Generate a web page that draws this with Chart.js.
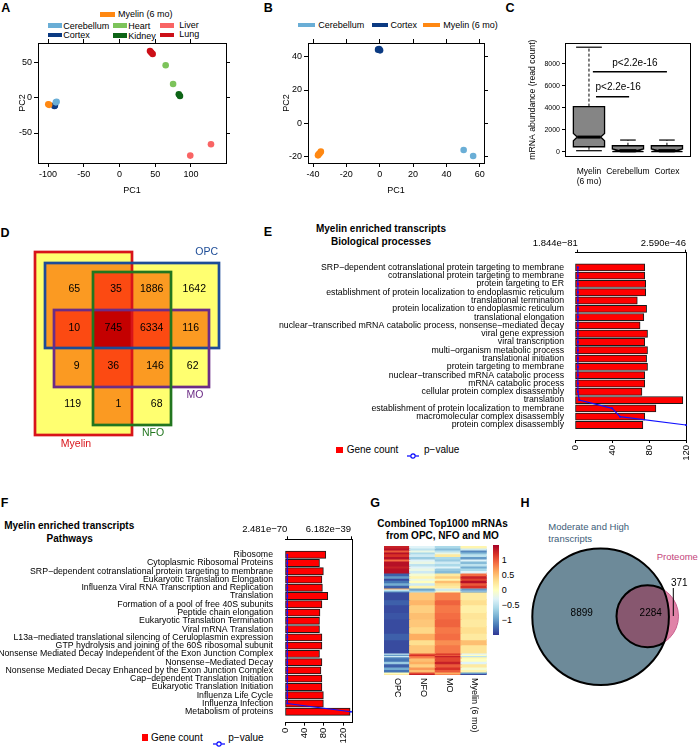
<!DOCTYPE html>
<html><head><meta charset="utf-8">
<script src="https://cdn.jsdelivr.net/npm/chart.js"></script>
<style>
html,body{margin:0;padding:0;background:#fff;}
#root{position:relative;width:700px;height:749px;overflow:hidden;font-family:"Liberation Sans",Arial,Helvetica,sans-serif;color:#000;}
#root canvas{position:absolute;}
.t{position:absolute;white-space:nowrap;line-height:1;}
.sw{position:absolute;}
</style></head>
<body><div id="root"></div>
<script>
/* ================= DATA ================= */
// A: PCA, all tissues  [PC1, PC2]
const A_myelin     = [[-99.6,-9.3],[-98.4,-10.1]];
const A_cerebellum = [[-88,-5.7],[-89,-6.6]];
const A_cortex     = [[-91,-11.8],[-90.4,-10.9]];
const A_heart      = [[64.6,46],[75,19.4]];
const A_kidney     = [[83,4.8],[84.6,2.4]];
const A_liver      = [[128,-66],[99,-82]];
const A_lung       = [[42.7,66],[46.4,62],[44.5,64]];
const A_xTicks = [-100,-50,0,50,100];
const A_yTicks = [-50,0,50];
// B: PCA, neural tissues
const B_cerebellum = [[50.3,-16],[56,-19.6]];
const B_cortex     = [[-1,44.2],[0.2,43.8],[-0.4,44.5]];
const B_myelin     = [[-36,-18],[-37,-19.2],[-35.3,-17],[-36.6,-18.6]];
const B_xTicks = [-40,-20,0,20,40,60];
const B_yTicks = [-20,0,20,40];
// C: boxplot statistics (read count)
const C_groups       = [['Myelin','(6 mo)'],'Cerebellum','Cortex'];
const C_whiskerLow   = [90,0,0];
const C_q1           = [450,0,0];
const C_notchLow     = [1000,0,0];
const C_median       = [1330,100,100];
const C_notchHigh    = [1650,250,250];
const C_q3           = [4100,540,540];
const C_whiskerHigh  = [9500,1060,1060];
const C_yTicks       = [0,2000,4000,6000,8000];
const C_pText        = ['p<2.2e-16','p<2.2e-16'];
// D: Venn counts (rows: OPC only / OPC+MO / MO only / neither ; cols: Myelin only / Myelin+NFO / NFO only / neither)
const D_sets = ['Myelin','OPC','NFO','MO'];
const D_row1 = [65,35,1886,1642];
const D_row2 = [10,745,6334,116];
const D_row3 = [9,36,146,62];
const D_row4 = [119,1,68,null];
// E: GO biological processes
const E_terms = ['SRP−dependent cotranslational protein targeting to membrane','cotranslational protein targeting to membrane','protein targeting to ER','establishment of protein localization to endoplasmic reticulum','translational termination','protein localization to endoplasmic reticulum','translational elongation','nuclear−transcribed mRNA catabolic process, nonsense−mediated decay','viral gene expression','viral transcription','multi−organism metabolic process','translational initiation','protein targeting to membrane','nuclear−transcribed mRNA catabolic process','mRNA catabolic process','cellular protein complex disassembly','translation','establishment of protein localization to membrane','macromolecular complex disassembly','protein complex disassembly'];
const E_geneCount = [75,75,76,76,67,77,74,70,78,75,78,77,78,75,75,72,116,87,75,73];
const E_pValue = [1.844e-81,3.1e-81,4.0e-80,6.2e-80,1.1e-79,2.3e-79,5.0e-78,1.2e-77,3.3e-77,8.1e-77,1.5e-76,4.2e-76,9.9e-75,2.0e-73,6.4e-72,3.0e-70,3.0e-48,8.2e-47,1.01e-46,2.590e-46];
const E_pTicks = [1.844e-81,2.590e-46];
const E_countTicks = [0,40,80,120];
// F: pathways
const F_terms = ['Ribosome','Cytoplasmic Ribosomal Proteins','SRP−dependent cotranslational protein targeting to membrane','Eukaryotic Translation Elongation','Influenza Viral RNA Transcription and Replication','Translation','Formation of a pool of free 40S subunits','Peptide chain elongation','Eukaryotic Translation Termination','Viral mRNA Translation','L13a−mediated translational silencing of Ceruloplasmin expression','GTP hydrolysis and joining of the 60S ribosomal subunit','Nonsense Mediated Decay Independent of the Exon Junction Complex','Nonsense−Mediated Decay','Nonsense Mediated Decay Enhanced by the Exon Junction Complex','Cap−dependent Translation Initiation','Eukaryotic Translation Initiation','Influenza Life Cycle','Influenza Infection','Metabolism of proteins'];
const F_geneCount = [84,71,79,76,77,88,76,72,71,71,76,76,71,76,74,76,76,79,79,134];
const F_pValue = [2.481e-70,4.0e-70,9.1e-70,1.5e-69,3.2e-69,6.0e-69,1.1e-68,2.4e-68,5.3e-68,9.8e-68,2.0e-67,4.4e-67,8.7e-67,1.6e-66,3.9e-66,7.5e-66,1.4e-65,3.3e-65,6.1e-65,6.182e-39];
const F_pTicks = [2.481e-70,6.182e-39];
const F_countTicks = [0,40,80,120];
// G: heatmap (row-scaled expression), bands of rows (top to bottom)
const G_columns = ['OPC','NFO','MO','Myelin (6 mo)'];
const G_rows   = [15,15,15,15,20,20,15,20,20,15,20,19, 20,20,15,20,20,20, 8,8,8,7, 60,40,60,50,60,50,50,40,63, 10,10,10,9, 25,20,25,20,18, 12,13];
const G_OPC    = [1.3,1.4,1.0,1.4,1.2,1.4,0.9,1.4,1.4,1.3,1.4,1.4, -1.3,-1.0,-1.4,-1.2,-0.9,-1.3, 0.6,-0.4,-0.6,-1.1, -1.4,-1.3,-1.4,-1.35,-1.4,-1.4,-1.3,-1.4,-1.4, -0.5,-1.0,-0.4,-1.1, -1.2,-0.7,-1.3,-0.9,-1.2, 0.0,0.2];
const G_NFO    = [-0.3,-0.5,-0.2,-0.6,-0.4,-0.7,-0.3,-0.2,-0.5,-0.3,-0.2,-0.4, -0.1,0.1,-0.2,0.0,-0.4,0.1, -0.9,-1.0,-0.7,-0.6, 0.45,0.55,0.4,0.5,0.45,0.35,0.6,0.3,0.45, 1.0,1.2,0.9,0.8, 0.5,0.6,0.4,0.7,0.5, 1.1,1.3];
const G_MO     = [-0.6,-0.8,-0.5,-0.2,0.2,-0.6,-0.7,-0.4,-0.6,-0.3,-0.7,-0.8, 0.2,0.4,0.1,0.5,0.3,0.2, -0.3,-0.5,-0.2,0.1, 0.8,0.95,0.85,0.9,0.95,0.85,0.9,0.75,0.85, 1.2,1.0,1.3,1.1, 1.1,1.3,1.0,1.2,1.0, 0.6,0.8];
const G_Myelin = [0.1,-0.4,-1.1,-0.8,-0.5,-1.0,-0.3,-0.8,-0.5,-0.9,-0.6,-0.3, 0.9,1.3,1.1,1.4,1.0,1.2, -0.8,-1.2,-0.5,-1.0, 0.2,0.3,0.15,0.25,0.2,0.3,0.2,0.5,0.25, -0.3,0.0,-0.5,0.1, 0.0,-0.3,0.2,-0.1,0.1, -1.0,-1.4];
const G_legendTicks = [1,0.5,0,-0.5,-1];
// H: Venn counts
const H_sets = ['Moderate and High transcripts','Proteome'];
const H_transcriptOnly = 8899;
const H_overlap = 2284;
const H_proteomeOnly = 371;

/* ================= LAYOUT / STYLE ================= */
const root = document.getElementById('root');
Chart.defaults.font.family = '"Liberation Sans", Arial, Helvetica, sans-serif';
Chart.defaults.color = '#000';
Chart.defaults.animation = false;
const FONT = '"Liberation Sans", Arial, Helvetica, sans-serif';

function canvasAt(x,y,w,h){const c=document.createElement('canvas');c.width=w;c.height=h;c.style.left=x+'px';c.style.top=y+'px';c.style.width=w+'px';c.style.height=h+'px';root.appendChild(c);return c;}
function txt(s,x,y,o={}){const d=document.createElement('div');d.className='t';d.textContent=s;d.style.fontSize=(o.size||9)+'px';if(o.bold)d.style.fontWeight='bold';if(o.color)d.style.color=o.color;d.style.left=x+'px';d.style.top=y+'px';const a=o.align||'left';d.style.transform='translate('+(a==='center'?'-50%':a==='right'?'-100%':'0')+',-50%)';root.appendChild(d);return d;}
function box(x,y,w,h,c){const d=document.createElement('div');d.className='sw';d.style.left=x+'px';d.style.top=y+'px';d.style.width=w+'px';d.style.height=h+'px';d.style.background=c;root.appendChild(d);}
function pMarker(x,y){const d=document.createElement('div');d.className='sw';d.style.left=x+'px';d.style.top=(y-4)+'px';d.innerHTML='<svg width="12" height="8"><line x1="0" y1="4" x2="3.5" y2="4" stroke="#0000ff" stroke-width="1.2"/><line x1="8.5" y1="4" x2="12" y2="4" stroke="#0000ff" stroke-width="1.2"/><circle cx="6" cy="4" r="2.2" fill="none" stroke="#0000ff" stroke-width="1.2"/></svg>';root.appendChild(d);}
const fixedTicks = vals => s => { s.ticks = vals.map(v=>({value:v})); };
const fixW = w => s => { s.width = w; };
const fixH = h => s => { s.height = h; };
const noPlug = {legend:{display:false},tooltip:{enabled:false}};
const tickGrid = {drawOnChartArea:false,tickLength:4,color:'#000',lineWidth:1};
function frameAxis(pos,min,max,ticks,size){
  const o={type:'linear',position:pos,min:min,max:max,ticks:{display:false},border:{color:'#000'}};
  if(ticks){o.afterBuildTicks=fixedTicks(ticks);o.grid=tickGrid;}else{o.grid={display:false};}
  if(pos==='top'||pos==='bottom')o.afterFit=fixH(size);else o.afterFit=fixW(size);
  return o;
}
const pts = arr => arr.map(([x,y])=>({x:x,y:y}));
const sc = (arr,c) => ({data:pts(arr),backgroundColor:c,borderWidth:0,pointRadius:3.3,pointHoverRadius:3.3});
const COL = {myelin:'#ff8812',cerebellum:'#6aaed6',cortex:'#0b3a82',heart:'#7cc35a',kidney:'#0d6416',liver:'#f96464',lung:'#cc0f18'};

/* ---------- panel letters ---------- */
[['A',5.8,7.8],['B',268.3,7.5],['C',510,7.8],['D',5,233],['E',268,232],['F',4.5,503.3],['G',375,503.3],['H',525,503.3]].forEach(([s,x,y])=>txt(s,x,y,{size:12.5,bold:true,align:'center'}));

/* ---------- A ---------- */
box(100,11.5,15,5,COL.myelin); txt('Myelin (6 mo)',118,14.2);
box(48,23,14,4.7,COL.cerebellum); txt('Cerebellum',63.3,25.6);
box(48,32.7,14,4.7,COL.cortex); txt('Cortex',63.3,35);
box(112.5,23,14,4.7,COL.heart); txt('Heart',128.3,26.4);
box(112.5,33,14,4.7,COL.kidney); txt('Kidney',128.3,36);
box(160,22.7,13.5,5,COL.liver); txt('Liver',179.3,25);
box(160,32.7,13.5,4.7,COL.lung); txt('Lung',179.3,34.3);
new Chart(canvasAt(0,0,235,200),{type:'scatter',
  data:{datasets:[sc(A_lung,COL.lung),sc(A_heart,COL.heart),sc(A_kidney,COL.kidney),sc(A_liver,COL.liver),sc(A_cerebellum,COL.cerebellum),sc(A_myelin,COL.myelin),sc(A_cortex,COL.cortex)]},
  options:{responsive:false,plugins:noPlug,layout:{padding:0},scales:{
    x:{type:'linear',position:'bottom',min:-114,max:149,afterBuildTicks:fixedTicks(A_xTicks),ticks:{font:{size:9},padding:2,callback:v=>String(v)},grid:tickGrid,border:{color:'#000'},title:{display:true,text:'PC1',font:{size:9},padding:{top:0,bottom:4}},afterFit:fixH(37)},
    y:{type:'linear',position:'left',min:-92.5,max:77.5,afterBuildTicks:fixedTicks(A_yTicks),ticks:{font:{size:9},padding:2,callback:v=>String(v)},grid:tickGrid,border:{color:'#000'},title:{display:true,text:'PC2',font:{size:9},padding:{top:17,bottom:0}},afterFit:fixW(38)},
    x2:frameAxis('top',-114,149,A_xTicks,43),
    y2:frameAxis('right',-92.5,77.5,A_yTicks,9)
  }}});

/* ---------- B ---------- */
box(298.3,22.7,16.7,4.8,COL.cerebellum); txt('Cerebellum',318.3,25);
box(371.7,22.7,16.7,4.8,COL.cortex); txt('Cortex',390.5,25);
box(422.7,22.7,17.3,4.8,COL.myelin); txt('Myelin (6 mo)',443.3,25);
new Chart(canvasAt(262,0,232,200),{type:'scatter',
  data:{datasets:[sc(B_cerebellum,COL.cerebellum),sc(B_cortex,COL.cortex),sc(B_myelin,COL.myelin)]},
  options:{responsive:false,plugins:noPlug,layout:{padding:0},scales:{
    x:{type:'linear',position:'bottom',min:-43,max:62.5,afterBuildTicks:fixedTicks(B_xTicks),ticks:{font:{size:9},padding:2,callback:v=>String(v)},grid:tickGrid,border:{color:'#000'},title:{display:true,text:'PC1',font:{size:9},padding:{top:0,bottom:4}},afterFit:fixH(37)},
    y:{type:'linear',position:'left',min:-23.8,max:48.2,afterBuildTicks:fixedTicks(B_yTicks),ticks:{font:{size:9},padding:2,callback:v=>String(v)},grid:tickGrid,border:{color:'#000'},title:{display:true,text:'PC2',font:{size:9},padding:{top:19.3,bottom:0}},afterFit:fixW(46)},
    x2:frameAxis('top',-43,62.5,B_xTicks,43),
    y2:frameAxis('right',-23.8,48.2,B_yTicks,10)
  }}});

/* ---------- C ---------- */
const C_boxHalf = 0.4, C_notchHalf = [0.3,0.22,0.22], C_capHalf = [0.33,0.2,0.2];
const C_pBars = [{x1:1.18,x2:2.03,y:5000,tx:1.75,ty:5850},{x1:1.10,x2:3.0,y:7270,tx:2.18,ty:8036}];
const boxPlugin = {id:'boxes',afterDatasetsDraw(chart){
  const {ctx,scales:{x,y}} = chart; const X=v=>x.getPixelForValue(v), Y=v=>y.getPixelForValue(v);
  const L=(a,b,c,d)=>{ctx.beginPath();ctx.moveTo(a,b);ctx.lineTo(c,d);ctx.stroke();};
  ctx.save(); ctx.strokeStyle='#000';
  C_median.forEach((m,i)=>{
    const c=i+1, hw=C_boxHalf, nw=C_notchHalf[i], cw=C_capHalf[i];
    ctx.lineWidth=1; ctx.setLineDash([3,2]);
    L(X(c),Y(C_q3[i]),X(c),Y(C_whiskerHigh[i])); L(X(c),Y(C_q1[i]),X(c),Y(C_whiskerLow[i]));
    ctx.setLineDash([]); ctx.lineWidth=1.2;
    L(X(c-cw),Y(C_whiskerHigh[i]),X(c+cw),Y(C_whiskerHigh[i])); L(X(c-cw),Y(C_whiskerLow[i]),X(c+cw),Y(C_whiskerLow[i]));
    ctx.beginPath();
    ctx.moveTo(X(c-hw),Y(C_q1[i])); ctx.lineTo(X(c-hw),Y(C_notchLow[i])); ctx.lineTo(X(c-nw),Y(m)); ctx.lineTo(X(c-hw),Y(C_notchHigh[i])); ctx.lineTo(X(c-hw),Y(C_q3[i]));
    ctx.lineTo(X(c+hw),Y(C_q3[i])); ctx.lineTo(X(c+hw),Y(C_notchHigh[i])); ctx.lineTo(X(c+nw),Y(m)); ctx.lineTo(X(c+hw),Y(C_notchLow[i])); ctx.lineTo(X(c+hw),Y(C_q1[i]));
    ctx.closePath(); ctx.fillStyle='#858585'; ctx.fill(); ctx.lineWidth=1.3; ctx.stroke();
    ctx.lineWidth=3; L(X(c-nw),Y(m),X(c+nw),Y(m));
  });
  ctx.lineWidth=1.6; ctx.fillStyle='#000'; ctx.font='10px '+FONT; ctx.textAlign='center'; ctx.textBaseline='middle';
  C_pBars.forEach((b,i)=>{L(X(b.x1),Y(b.y),X(b.x2),Y(b.y)); ctx.fillText(C_pText[i],X(b.tx),Y(b.ty));});
  ctx.restore();
}};
new Chart(canvasAt(500,0,200,200),{type:'scatter',data:{datasets:[]},plugins:[boxPlugin],
  options:{responsive:false,plugins:noPlug,layout:{padding:0},scales:{
    x:{type:'linear',position:'bottom',min:0.385,max:3.61,afterBuildTicks:fixedTicks([1,2,3]),ticks:{callback:v=>C_groups[v-1],font:{size:8.5,lineHeight:1.15},padding:3},grid:{display:false},border:{color:'#000'},afterFit:fixH(44)},
    y:{type:'linear',position:'left',min:-390,max:9855,afterBuildTicks:fixedTicks(C_yTicks),ticks:{font:{size:7},padding:2,callback:v=>String(v)},grid:{drawOnChartArea:false,tickLength:3,color:'#000'},border:{color:'#000'},title:{display:true,text:'mRNA abundance (read count)',font:{size:8.7},padding:{top:27.8,bottom:0}},afterFit:fixW(65)},
    x2:frameAxis('top',0,1,null,43.3),
    y2:frameAxis('right',0,1,null,9.3)
  }}});

/* ---------- D ---------- */
const D_rects = {Myelin:[35,51.7,132.3,235],OPC:[45,62.7,219,148.3],NFO:[93.3,71.7,170.7,225],MO:[54.3,110,209.3,187.3]};
const D_setColor = {Myelin:'#d8141a',OPC:'#1d4c97',NFO:'#22761f',MO:'#6c2c86'};
const D_fill = [null,'#ffff70','#fb9a22','#fc4a12','#c40000'];
const D_numX = [[74.3,116,151.7,194.3],[74.3,113.3,151.7,190.7],[76.7,113.3,155,192.7],[72.7,118.3,156.7,0]];
const D_numY = [89,128,166,204.3];
const D_labels = [['OPC',206.7,52,'OPC'],['MO',195,195,'MO'],['NFO',153,233,'NFO'],['Myelin',76,244,'Myelin']];
const vennD = {id:'vennD',afterDraw(chart){
  const {ctx,scales:{x,y}} = chart; const X=v=>Math.round(x.getPixelForValue(v)), Y=v=>Math.round(y.getPixelForValue(v));
  const xs=new Set(), ys=new Set(); Object.values(D_rects).forEach(r=>{xs.add(r[0]);xs.add(r[2]);ys.add(r[1]);ys.add(r[3]);});
  const XS=[...xs].sort((a,b)=>a-b), YS=[...ys].sort((a,b)=>a-b);
  ctx.save();
  for(let i=0;i<XS.length-1;i++)for(let j=0;j<YS.length-1;j++){
    const cx=(XS[i]+XS[i+1])/2, cy=(YS[j]+YS[j+1])/2;
    const k=D_sets.filter(s=>{const r=D_rects[s];return cx>r[0]&&cx<r[2]&&cy>r[1]&&cy<r[3];}).length;
    if(k){ctx.fillStyle=D_fill[k];ctx.fillRect(X(XS[i]),Y(YS[j]),X(XS[i+1])-X(XS[i]),Y(YS[j+1])-Y(YS[j]));}
  }
  ctx.lineWidth=2.7;
  ['Myelin','OPC','MO','NFO'].forEach(s=>{const r=D_rects[s];ctx.strokeStyle=D_setColor[s];ctx.strokeRect(X(r[0]),Y(r[1]),X(r[2])-X(r[0]),Y(r[3])-Y(r[1]));});
  ctx.fillStyle='#000'; ctx.font='10.5px '+FONT; ctx.textAlign='center'; ctx.textBaseline='middle';
  [D_row1,D_row2,D_row3,D_row4].forEach((row,ri)=>row.forEach((v,ci)=>{if(v!==null)ctx.fillText(String(v),x.getPixelForValue(D_numX[ri][ci]),y.getPixelForValue(D_numY[ri]));}));
  D_labels.forEach(([s,lx,ly,set])=>{ctx.fillStyle=D_setColor[set];ctx.fillText(s,x.getPixelForValue(lx),y.getPixelForValue(ly));});
  ctx.restore();
}};
new Chart(canvasAt(0,200,250,250),{type:'scatter',data:{datasets:[]},plugins:[vennD],
  options:{responsive:false,plugins:noPlug,layout:{padding:0},scales:{x:{type:'linear',display:false,min:0,max:250},y:{type:'linear',display:false,min:0,max:250,reverse:true}}}});

/* ---------- E ---------- */
const pfmt = v => v.toExponential(3).replace('e-','e−');
txt('Myelin enriched transcripts',381,229.3,{size:10,bold:true,align:'center'});
txt('Biological processes',381,241.7,{size:10,bold:true,align:'center'});
box(336,446.7,6.7,6.7,'#ff0000'); txt('Gene count',346.7,450,{size:10});
pMarker(407,450); txt('p−value',424,450,{size:10});
const E_PS = 1e46;
new Chart(canvasAt(250,200,450,270),{type:'bar',
  data:{datasets:[
    {type:'line',label:'p−value',data:E_pValue.map((p,i)=>({x:p*E_PS,y:i})),xAxisID:'xp',yAxisID:'y',borderColor:'#1010ff',backgroundColor:'#1010ff',borderWidth:1.1,pointRadius:1,pointBorderWidth:0,order:0,clip:false},
    {type:'bar',label:'Gene count',data:E_geneCount.map((v,i)=>({x:v,y:i})),xAxisID:'x',yAxisID:'y',backgroundColor:'#ff0000',borderColor:'#1a1a1a',borderWidth:1,borderSkipped:false,barThickness:7.2,order:1}
  ]},
  options:{indexAxis:'y',responsive:false,plugins:noPlug,layout:{padding:0},scales:{
    y:{type:'linear',position:'left',reverse:true,min:-1.2,max:20.25,afterBuildTicks:fixedTicks(E_terms.map((_,i)=>i)),ticks:{autoSkip:false,callback:v=>E_terms[v],font:{size:8.75},padding:3},grid:{display:false},border:{display:false},afterFit:fixW(325)},
    x:{type:'linear',position:'bottom',min:0,max:120,afterBuildTicks:fixedTicks(E_countTicks),ticks:{minRotation:90,maxRotation:90,font:{size:9.5},padding:2,callback:v=>String(v)},grid:{drawOnChartArea:false,tickLength:3,color:'#000'},border:{color:'#000'},afterFit:fixH(30)},
    xp:{type:'linear',position:'top',min:-0.0694,max:2.606,afterBuildTicks:fixedTicks(E_pTicks.map(p=>p*E_PS)),ticks:{align:'end',font:{size:9.5},padding:1,callback:(v,i)=>pfmt(E_pTicks[i])},grid:{drawOnChartArea:false,tickLength:3,color:'#000'},border:{color:'#000'},afterFit:fixH(52.7)},
    yr:frameAxis('right',0,1,null,9.3)
  }}});

/* ---------- F ---------- */
txt('Myelin enriched transcripts',69.2,526,{size:10,bold:true,align:'center'});
txt('Pathways',69.7,538.7,{size:10,bold:true,align:'center'});
box(141.7,734.4,6.7,6.7,'#ff0000'); txt('Gene count',151,737.7,{size:10});
pMarker(212.5,737.7); txt('p−value',228.3,737.7,{size:10});
const F_PS = 1e39;
new Chart(canvasAt(0,500,360,249),{type:'bar',
  data:{datasets:[
    {type:'line',label:'p−value',data:F_pValue.map((p,i)=>({x:p*F_PS,y:i})),xAxisID:'xp',yAxisID:'y',borderColor:'#1010ff',backgroundColor:'#1010ff',borderWidth:1.1,pointRadius:1,pointBorderWidth:0,order:0,clip:false},
    {type:'bar',label:'Gene count',data:F_geneCount.map((v,i)=>({x:v,y:i})),xAxisID:'x',yAxisID:'y',backgroundColor:'#ff0000',borderColor:'#1a1a1a',borderWidth:1,borderSkipped:false,barThickness:7.2,order:1}
  ]},
  options:{indexAxis:'y',responsive:false,plugins:noPlug,layout:{padding:0},scales:{
    y:{type:'linear',position:'left',reverse:true,min:-1.31,max:19.77,afterBuildTicks:fixedTicks(F_terms.map((_,i)=>i)),ticks:{autoSkip:false,callback:v=>F_terms[v],font:{size:8.75},padding:4},grid:{display:false},border:{display:false},afterFit:fixW(285)},
    x:{type:'linear',position:'bottom',min:0,max:138.5,afterBuildTicks:fixedTicks(F_countTicks),ticks:{minRotation:90,maxRotation:90,font:{size:9.5},padding:2,callback:v=>String(v)},grid:{drawOnChartArea:false,tickLength:3,color:'#000'},border:{color:'#000'},afterFit:fixH(26.3)},
    xp:{type:'linear',position:'top',min:-0.223,max:6.308,afterBuildTicks:fixedTicks(F_pTicks.map(p=>p*F_PS)),ticks:{align:'end',font:{size:9.5},padding:1,callback:(v,i)=>pfmt(F_pTicks[i])},grid:{drawOnChartArea:false,tickLength:3,color:'#000'},border:{color:'#000'},afterFit:fixH(39.3)},
    yr:frameAxis('right',0,1,null,7.7)
  }}});

/* ---------- G ---------- */
const RdYlBu = ['#313695','#4575b4','#74add1','#abd9e9','#e0f3f8','#ffffbf','#fee090','#fdae61','#f46d43','#d73027','#a50026'];
function hex2rgb(h){return [1,3,5].map(i=>parseInt(h.substr(i,2),16));}
function heatColor(v){const t=Math.max(0,Math.min(1,(v+1.5)/3))*10;const i=Math.min(9,Math.floor(t));const f=t-i;const a=hex2rgb(RdYlBu[i]),b=hex2rgb(RdYlBu[i+1]);return 'rgb('+a.map((c,k)=>Math.round(c+(b[k]-c)*f)).join(',')+')';}
txt('Combined Top1000 mRNAs',442.5,524.3,{size:10,bold:true,align:'center'});
txt('from OPC, NFO and MO',442.5,535.7,{size:10,bold:true,align:'center'});
(function(){const d=document.createElement('div');d.className='sw';d.style.left='493.3px';d.style.top='545px';d.style.width='6px';d.style.height='90px';
  const stops=[];for(let k=0;k<=20;k++){const v=1.5-3*k/20;stops.push(heatColor(v)+' '+(k*5)+'%');}d.style.background='linear-gradient(to bottom,'+stops.join(',')+')';root.appendChild(d);})();
G_legendTicks.forEach(v=>txt(v<0?'−'+Math.abs(v):String(v),501.7,590-v*30,{size:9}));
const gLabels = {id:'gLabels',afterDraw(chart){const {ctx,scales:{x},chartArea}=chart;ctx.save();ctx.fillStyle='#000';ctx.font='9px '+FONT;ctx.textAlign='left';ctx.textBaseline='middle';
  G_columns.forEach((s,i)=>{ctx.save();ctx.translate(x.getPixelForValue(i)+1,chartArea.bottom+3);ctx.rotate(Math.PI/2);ctx.fillText(s,0,0);ctx.restore();});ctx.restore();}};
const G_cols = [G_OPC,G_NFO,G_MO,G_Myelin];
new Chart(canvasAt(370,500,160,249),{type:'bar',plugins:[gLabels],
  data:{labels:G_columns,datasets:G_rows.map((n,i)=>({data:[n,n,n,n],backgroundColor:G_cols.map(c=>heatColor(c[i])),borderWidth:0,barPercentage:1,categoryPercentage:1,inflateAmount:0.6}))},
  options:{responsive:false,plugins:noPlug,layout:{padding:{left:14,right:43.3,top:46,bottom:74}},scales:{
    x:{type:'category',stacked:true,display:false},
    y:{type:'linear',stacked:true,display:false,min:0,max:1000,reverse:true}
  }}});

/* ---------- H ---------- */
txt('Moderate and High',548.3,527.3,{size:9.5,color:'#3d5d79'});
txt('transcripts',548.3,538.7,{size:9.5,color:'#3d5d79'});
txt('Proteome',656.7,557.3,{size:9.5,color:'#c4457b'});
const H_layout = {big:{cx:80.6,cy:116.7,r:68.3},small:{cx:127.5,cy:116.2,r:31},n1:[61.7,113.3],n2:[130.7,113.3],n3:[159.3,83.3],lead:[153.3,88,153.3,116]};
const vennH = {id:'vennH',afterDraw(chart){
  const {ctx,scales:{x,y}} = chart; const X=v=>x.getPixelForValue(v), Y=v=>y.getPixelForValue(v), R=r=>Math.abs(x.getPixelForValue(r)-x.getPixelForValue(0));
  const B=H_layout.big,S=H_layout.small;
  const circ=c=>{ctx.beginPath();ctx.arc(X(c.cx),Y(c.cy),R(c.r),0,2*Math.PI);};
  ctx.save();
  circ(B);ctx.fillStyle='#6d8a99';ctx.fill();
  circ(S);ctx.fillStyle='#e083a8';ctx.fill();
  ctx.save();circ(B);ctx.clip();circ(S);ctx.fillStyle='#87576f';ctx.fill();ctx.lineWidth=2;ctx.strokeStyle='#000';ctx.stroke();ctx.restore();
  ctx.save();ctx.beginPath();ctx.rect(0,0,chart.width,chart.height);ctx.arc(X(B.cx),Y(B.cy),R(B.r),0,2*Math.PI);ctx.clip('evenodd');circ(S);ctx.lineWidth=1;ctx.strokeStyle='#c8608e';ctx.stroke();ctx.restore();
  circ(B);ctx.lineWidth=2;ctx.strokeStyle='#000';ctx.stroke();
  ctx.fillStyle='#000';ctx.font='10px '+FONT;ctx.textAlign='center';ctx.textBaseline='middle';
  ctx.fillText(String(H_transcriptOnly),X(H_layout.n1[0]),Y(H_layout.n1[1]));
  ctx.fillText(String(H_overlap),X(H_layout.n2[0]),Y(H_layout.n2[1]));
  ctx.fillText(String(H_proteomeOnly),X(H_layout.n3[0]),Y(H_layout.n3[1]));
  const l=H_layout.lead;ctx.lineWidth=1;ctx.beginPath();ctx.moveTo(X(l[0]),Y(l[1]));ctx.lineTo(X(l[2]),Y(l[3]));ctx.stroke();
  ctx.restore();
}};
new Chart(canvasAt(520,500,180,249),{type:'scatter',data:{datasets:[]},plugins:[vennH],
  options:{responsive:false,plugins:noPlug,layout:{padding:0},scales:{x:{type:'linear',display:false,min:0,max:180},y:{type:'linear',display:false,min:0,max:249,reverse:true}}}});
</script>
</body></html>
